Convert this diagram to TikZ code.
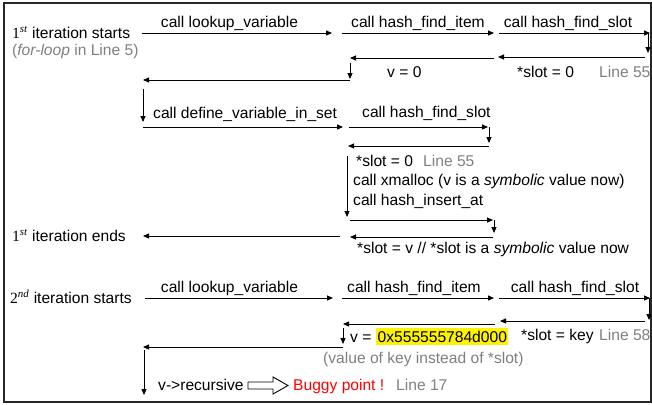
\documentclass[tikz,border=0pt]{standalone}
\usepackage{fontspec}
\setmainfont{Liberation Sans}
\newfontfamily\ordfont{Liberation Serif}
\newcommand{\ordnum}[2]{{\ordfont #1\textsuperscript{\itshape #2}}}
\usetikzlibrary{arrows.meta}
\definecolor{notegray}{RGB}{128,128,128}
\definecolor{bugred}{RGB}{255,0,0}
\begin{document}
\begin{tikzpicture}[x=1bp,y=-1bp,
  arr/.style={draw, line width=0.9bp, -{Triangle[length=6bp,width=5bp]}},
  txt/.style={inner sep=0pt, anchor=base west, font=\fontsize{15.6bp}{18bp}\selectfont},
  ctxt/.style={txt, anchor=base},
  note/.style={txt, text=notegray}]
\useasboundingbox (0,0) rectangle (652,404);
\draw[line width=1.2bp, black!85] (4,3) rectangle (651,402);

% ---------- 1st iteration ----------
\node[txt] (it1s) at (12,38) {\ordnum{1}{st} iteration starts};
\node[note] (fl) at (12,55) {(\textit{for-loop} in Line 5)};

\coordinate (r1a) at (142,33); \coordinate (r1b) at (332,33);
\coordinate (r1c) at (342,33); \coordinate (r1d) at (494,33);
\coordinate (r1e) at (499,33); \coordinate (r1f) at (650,33);
\draw[arr] (r1a) -- (r1b);
\draw[arr] (r1c) -- (r1d);
\draw[arr] (r1e) -- (r1f);
\node[ctxt] (lab1) at (229.5,27) {call lookup\_variable};
\node[ctxt] (lab2) at (418,27) {call hash\_find\_item};
\node[ctxt] (lab3) at (568,27) {call hash\_find\_slot};

\coordinate (d1a) at (648,33); \coordinate (d1b) at (648,53);
\draw[arr] (d1a) -- (d1b);
\coordinate (l1a) at (645,57); \coordinate (l1b) at (498,57);
\draw[arr] (l1a) -- (l1b);
\coordinate (l2a) at (494,58); \coordinate (l2b) at (350,58);
\draw[arr] (l2a) -- (l2b);
\node[txt] (slot0a) at (517,77) {*slot = 0};
\node[note] (ln55a) at (599,77) {Line 55};
\node[txt] (v0) at (387,77) {v = 0};

\coordinate (d2a) at (350,63); \coordinate (d2b) at (350,79);
\draw[arr] (d2a) -- (d2b);
\coordinate (l3a) at (350,80); \coordinate (l3b) at (143,80);
\draw[arr] (l3a) -- (l3b);
\coordinate (d3a) at (143,89); \coordinate (d3b) at (143,122);
\draw[arr] (d3a) -- (d3b);

\coordinate (r2a) at (143,127); \coordinate (r2b) at (343,127);
\draw[arr] (r2a) -- (r2b);
\node[txt] (dvis) at (153,118) {call define\_variable\_in\_set};
\coordinate (r2c) at (349,127); \coordinate (r2d) at (488,127);
\draw[arr] (r2c) -- (r2d);
\node[txt] (hfs2) at (362,117) {call hash\_find\_slot};
\coordinate (d4a) at (489,127); \coordinate (d4b) at (489,143);
\draw[arr] (d4a) -- (d4b);
\coordinate (l4a) at (489,146); \coordinate (l4b) at (348,146);
\draw[arr] (l4a) -- (l4b);

\coordinate (d5a) at (347,156); \coordinate (d5b) at (347,217);
\draw[arr] (d5a) -- (d5b);
\node[txt] (slot0b) at (356,166) {*slot = 0};
\node[note] (ln55b) at (423,166) {Line 55};
\node[txt] (xm) at (353,185) {call xmalloc (v is a \textit{symbolic} value now)};
\node[txt] (hia) at (353,205) {call hash\_insert\_at};

\coordinate (r3a) at (350,220); \coordinate (r3b) at (493,220);
\draw[arr] (r3a) -- (r3b);
\coordinate (d6a) at (494,220); \coordinate (d6b) at (494,233);
\draw[arr] (d6a) -- (d6b);
\coordinate (l5a) at (493,237); \coordinate (l5b) at (350,237);
\draw[arr] (l5a) -- (l5b);
\coordinate (l6a) at (340,236); \coordinate (l6b) at (143,236);
\draw[arr] (l6a) -- (l6b);
\node[txt] (it1e) at (12,241) {\ordnum{1}{st} iteration ends};
\node[txt] (slotv) at (357,253) {*slot = v // *slot is a \textit{symbolic} value now};

% ---------- 2nd iteration ----------
\node[txt] (it2s) at (10,303) {\ordnum{2}{nd} iteration starts};
\coordinate (s1a) at (145,298); \coordinate (s1b) at (333,298);
\coordinate (s1c) at (342,298); \coordinate (s1d) at (494,298);
\coordinate (s1e) at (499,298); \coordinate (s1f) at (650,298);
\draw[arr] (s1a) -- (s1b);
\draw[arr] (s1c) -- (s1d);
\draw[arr] (s1e) -- (s1f);
\node[ctxt] (lab4) at (229.5,292) {call lookup\_variable};
\node[ctxt] (lab5) at (414,292) {call hash\_find\_item};
\node[ctxt] (lab6) at (575,292) {call hash\_find\_slot};

\coordinate (d7a) at (649,298); \coordinate (d7b) at (649,320);
\draw[arr] (d7a) -- (d7b);
\coordinate (l7a) at (645,321); \coordinate (l7b) at (500,321);
\draw[arr] (l7a) -- (l7b);
\coordinate (l8a) at (495,324); \coordinate (l8b) at (343,324);
\draw[arr] (l8a) -- (l8b);
\node[txt] (slotk) at (521,340) {*slot = key};
\node[note] (ln58) at (599,340) {Line 58};

\coordinate (d8a) at (343,328); \coordinate (d8b) at (343,344);
\draw[arr] (d8a) -- (d8b);
\node[txt] (veq) at (350,342) {v =};
\node[txt, fill=yellow, inner xsep=1.5bp, inner ysep=3bp] (hl) at (376,342) {0x555555784d000};
\node[note] (vk) at (323,363) {(value of key instead of *slot)};

\coordinate (l9a) at (343,347); \coordinate (l9b) at (143,347);
\draw[arr] (l9a) -- (l9b);
\coordinate (d9a) at (144,350); \coordinate (d9b) at (144,395);
\draw[arr] (d9a) -- (d9b);

\node[txt] (rec) at (158,390) {v->recursive};
\draw[line width=0.9bp] (248,382) -- (273,382) -- (273,377) -- (288,385.5) -- (273,394) -- (273,389) -- (248,389) -- cycle;
\node[txt, text=bugred] (bug) at (293,390) {Buggy point !};
\node[note] (ln17) at (396,390) {Line 17};
\end{tikzpicture}
\end{document}
